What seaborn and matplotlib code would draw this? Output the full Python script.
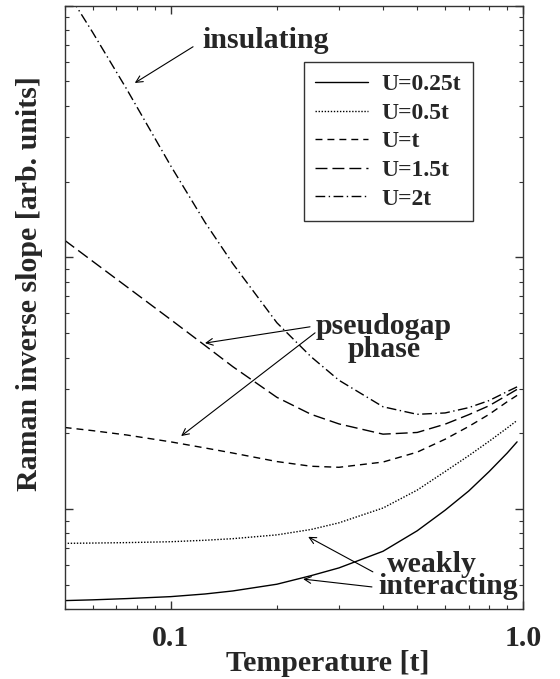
import matplotlib
matplotlib.use("Agg")
import matplotlib.pyplot as plt
import matplotlib.ticker as mticker
import seaborn as sns
import pandas as pd

# ---- data ----
T = [0.05, 0.06, 0.075, 0.1, 0.125, 0.15, 0.2, 0.25, 0.3, 0.4, 0.5, 0.6, 0.7, 0.8, 0.9, 0.96]
u025 = [0.433, 0.436, 0.441, 0.449, 0.46, 0.473, 0.503, 0.544, 0.584, 0.68, 0.82, 0.99, 1.18, 1.41, 1.67, 1.85]
u05 = [0.731, 0.733, 0.736, 0.742, 0.752, 0.763, 0.79, 0.83, 0.882, 1.01, 1.19, 1.41, 1.63, 1.86, 2.1, 2.25]
u1 = [2.11, 2.05, 1.97, 1.85, 1.75, 1.67, 1.545, 1.48, 1.466, 1.538, 1.684, 1.895, 2.13, 2.38, 2.67, 2.83]
u15 = [11.7, 9.66, 7.65, 5.66, 4.47, 3.68, 2.78, 2.38, 2.18, 1.985, 2.016, 2.175, 2.372, 2.575, 2.835, 2.99]
u2 = [118, 78.5, 46.6, 23.1, 13.8, 9.44, 5.5, 4.03, 3.25, 2.55, 2.38, 2.41, 2.53, 2.70, 2.93, 3.06]

labels = ["U=0.25t", "U=0.5t", "U=t", "U=1.5t", "U=2t"]
series = [u025, u05, u1, u15, u2]
xticks = [0.1, 1.0]
xticklabels = ["0.1", "1.0"]

rows = []
for lab, vals in zip(labels, series):
    for t, v in zip(T, vals):
        rows.append({"T": t, "S": v, "U": lab})
df = pd.DataFrame(rows)

sns.set_style("ticks")
plt.rcParams["font.family"] = ["Liberation Serif", "DejaVu Serif"]
plt.rcParams["font.weight"] = "bold"

fig = plt.figure(figsize=(5.6, 6.79), dpi=100)
ax = fig.add_axes([0.1154, 0.1027, 0.8191, 0.8889])

dashes = {
    "U=0.25t": "",
    "U=0.5t": (1, 1.2),
    "U=t": (5, 3.6),
    "U=1.5t": (8.6, 3.6),
    "U=2t": (7, 2.5, 1, 2.5),
}
sns.lineplot(data=df, x="T", y="S", style="U", style_order=labels, dashes=dashes,
             color="black", linewidth=1.0, ax=ax, legend=True)

ax.set_xscale("log")
ax.set_yscale("log")
ax.set_xlim(0.05, 1.0)
ax.set_ylim(0.4, 100)

ax.xaxis.set_major_locator(mticker.FixedLocator(xticks))
ax.xaxis.set_major_formatter(mticker.FixedFormatter(xticklabels))
ax.xaxis.set_minor_locator(mticker.LogLocator(base=10, subs=range(2, 10)))
ax.xaxis.set_minor_formatter(mticker.NullFormatter())
ax.yaxis.set_major_locator(mticker.LogLocator(base=10))
ax.yaxis.set_minor_locator(mticker.LogLocator(base=10, subs=range(2, 10)))
ax.yaxis.set_major_formatter(mticker.NullFormatter())
ax.yaxis.set_minor_formatter(mticker.NullFormatter())

ax.tick_params(which="both", direction="in", top=True, right=True, color="#333333")
ax.tick_params(which="major", length=6, width=1.0, labelsize=21.5, pad=11)
ax.tick_params(which="minor", length=3, width=0.8)
for lbl in ax.get_xticklabels():
    lbl.set_fontweight("bold")
for sp in ax.spines.values():
    sp.set_linewidth(1.0)
    sp.set_color("#333333")

ax.set_xlabel("Temperature [t]", fontsize=21.5, fontweight="bold")
ax.set_ylabel("Raman inverse slope [arb. units]", fontsize=21.5, fontweight="bold")
ax.xaxis.set_label_coords(0.574, -0.068)
ax.yaxis.set_label_coords(-0.048, 0.54)

leg = ax.legend(loc="upper right", bbox_to_anchor=(0.890, 0.907), borderaxespad=0,
                frameon=True, fancybox=False, framealpha=1, edgecolor="#333333",
                prop={"family": "Liberation Serif", "weight": "bold", "size": 17},
                handlelength=2.25, handletextpad=0.55, labelspacing=0.3, borderpad=0.5)
leg.get_frame().set_linewidth(1.0)

afs = 21.5
ap = dict(arrowstyle="->", color="black", lw=0.8, shrinkA=0, shrinkB=0,
          mutation_scale=12)
ax.text(0.439, 0.943, "insulating", transform=ax.transAxes, ha="center", va="center",
        fontsize=afs, fontweight="bold")
ax.annotate("", xy=(0.153, 0.872), xytext=(0.280, 0.932), xycoords="axes fraction",
            textcoords="axes fraction", arrowprops=ap)

ax.text(0.696, 0.449, "pseudogap\nphase", transform=ax.transAxes, ha="center", va="center",
        fontsize=afs, fontweight="bold", linespacing=0.8)
ax.annotate("", xy=(0.306, 0.441), xytext=(0.535, 0.468), xycoords="axes fraction",
            textcoords="axes fraction", arrowprops=ap)
ax.annotate("", xy=(0.254, 0.287), xytext=(0.546, 0.458), xycoords="axes fraction",
            textcoords="axes fraction", arrowprops=ap)

ax.text(0.801, 0.061, "weakly", transform=ax.transAxes, ha="center", va="baseline",
        fontsize=afs, fontweight="bold")
ax.text(0.836, 0.026, "interacting", transform=ax.transAxes, ha="center", va="baseline",
        fontsize=afs, fontweight="bold")
ax.annotate("", xy=(0.531, 0.120), xytext=(0.672, 0.062), xycoords="axes fraction",
            textcoords="axes fraction", arrowprops=ap)
ax.annotate("", xy=(0.520, 0.050), xytext=(0.670, 0.037), xycoords="axes fraction",
            textcoords="axes fraction", arrowprops=ap)

fig.savefig("out.png", dpi=100)
